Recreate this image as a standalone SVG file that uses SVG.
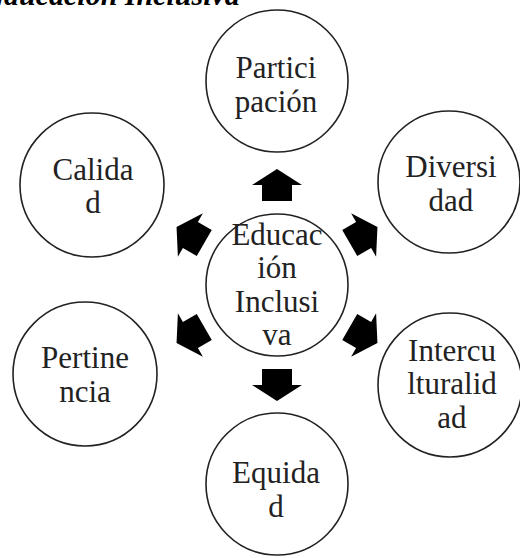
<svg xmlns="http://www.w3.org/2000/svg" width="520" height="558" viewBox="0 0 520 558">
<style>
.n{fill:#fff;stroke:#222;stroke-width:1.6}
.t{font-family:"Liberation Serif","Times New Roman",serif;font-size:31px;fill:#222;text-anchor:middle}
.ttl{font-family:"Liberation Serif","Times New Roman",serif;font-size:30px;font-weight:bold;font-style:italic;fill:#000}
.a{fill:#000}
</style>
<defs>
<path id="arr" d="M0,-16 L25,0 L15,0 L15,16 L-15,16 L-15,0 L-25,0 Z"/>
</defs>
<rect width="520" height="558" fill="#fff"/>
<text class="ttl" x="-16" y="5">Educación Inclusiva</text>
<g id="connectors" class="a">
<use href="#arr" transform="translate(277,185)"/>
<use href="#arr" transform="translate(363.6,235) rotate(60)"/>
<use href="#arr" transform="translate(363.6,335) rotate(120)"/>
<use href="#arr" transform="translate(277,385) rotate(180)"/>
<use href="#arr" transform="translate(190.4,335) rotate(-120)"/>
<use href="#arr" transform="translate(190.4,235) rotate(-60)"/>
</g>
<g id="educacion">
<circle class="n" cx="277" cy="285" r="71"/>
<text class="t" x="277" y="245">Educac</text>
<text class="t" x="277" y="278">ión</text>
<text class="t" x="277" y="312">Inclusi</text>
<text class="t" x="277" y="345">va</text>
</g>
<g id="participacion">
<circle class="n" cx="277" cy="81" r="71"/>
<text class="t" x="276" y="78">Partici</text>
<text class="t" x="276" y="112">pación</text>
</g>
<g id="calidad">
<circle class="n" cx="92" cy="185" r="72"/>
<text class="t" x="93" y="180">Calida</text>
<text class="t" x="93" y="213">d</text>
</g>
<g id="diversidad">
<circle class="n" cx="449" cy="182" r="71"/>
<text class="t" x="451" y="177">Diversi</text>
<text class="t" x="451" y="211">dad</text>
</g>
<g id="pertinencia">
<circle class="n" cx="85" cy="374" r="72"/>
<text class="t" x="85" y="368">Pertine</text>
<text class="t" x="85" y="402">ncia</text>
</g>
<g id="interculturalidad">
<circle class="n" cx="450" cy="385" r="72"/>
<text class="t" x="452" y="361">Intercu</text>
<text class="t" x="452" y="394">lturalid</text>
<text class="t" x="452" y="428">ad</text>
</g>
<g id="equidad">
<circle class="n" cx="277" cy="484" r="71"/>
<text class="t" x="276" y="483">Equida</text>
<text class="t" x="276" y="517">d</text>
</g>
</svg>
